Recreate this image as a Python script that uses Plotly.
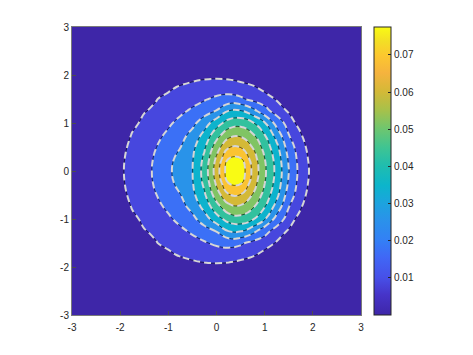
import numpy as np
import plotly.graph_objects as go

# grid coordinates
x_vals = [-3, -2.25, -2, -1.75, -1.5, -1.25, -1, -0.75, -0.5, -0.25, 0, 0.25, 0.5, 0.75, 1, 1.25, 1.5, 1.75, 2, 2.25, 3]
y_vals = [-3, -2.25, -2, -1.75, -1.5, -1.25, -1, -0.75, -0.5, -0.25, 0, 0.25, 0.5, 0.75, 1, 1.25, 1.5, 1.75, 2, 2.25, 3]

# estimated field values (units of 1e-3), rows ordered by y ascending
z_milli = [
    [0]*21,
    [0]*21,
    [0, 0, 0, 0, 0, 0, 0, 0, 4.8, 6.3, 6.5, 5.8, 3.6, 0, 0, 0, 0, 0, 0, 0, 0],
    [0, 0, 0, 0, 0, 0, 5.6, 9.2, 10.4, 10.8, 11.2, 11.6, 11.2, 9.2, 4.9, 0, 0, 0, 0, 0, 0],
    [0, 0, 0, 0, 0, 7.6, 11.0, 11.4, 13.4, 15.2, 17.6, 18.8, 17.2, 13.9, 12.0, 7.2, 0, 0, 0, 0, 0],
    [0, 0, 0, 0, 7.4, 9.9, 12.2, 14.5, 17.2, 20.7, 24.4, 32.2, 32.8, 26.9, 18.9, 12.6, 7.0, 0, 0, 0, 0],
    [0, 0, 0, 5.2, 10.4, 12.2, 14.8, 18.1, 21.9, 28.2, 36.5, 43.3, 45.0, 41.0, 32.7, 21.0, 12.6, 4.0, 0, 0, 0],
    [0, 0, 0, 8.8, 11.1, 14.1, 17.4, 21.3, 26.3, 34.5, 44.8, 53.3, 54.6, 49.1, 40.2, 28.7, 16.2, 8.8, 0, 0, 0],
    [0, 0, 6.1, 9.4, 12.6, 15.9, 19.9, 23.8, 29.9, 38.8, 52.1, 63.2, 63.6, 55.6, 45.1, 34.1, 20.1, 11.2, 3.5, 0, 0],
    [0, 0, 6.8, 10.0, 13.4, 17.0, 21.7, 26.6, 31.4, 41.9, 57.5, 72.2, 73.1, 60.5, 48.2, 36.8, 22.9, 12.3, 5.1, 0, 0],
    [0, 0, 7.0, 10.2, 13.6, 17.4, 22.6, 27.3, 31.8, 43.2, 60.0, 76.8, 77.7, 62.4, 49.3, 37.7, 24.3, 12.7, 5.8, 0, 0],
    [0, 0, 6.8, 10.0, 13.4, 17.0, 21.7, 26.6, 31.4, 41.9, 57.5, 72.2, 73.1, 60.5, 48.2, 36.8, 22.9, 12.3, 5.1, 0, 0],
    [0, 0, 6.1, 9.4, 12.6, 15.9, 19.9, 23.8, 29.9, 38.8, 52.1, 63.2, 63.6, 55.6, 45.1, 34.1, 20.1, 11.2, 3.5, 0, 0],
    [0, 0, 0, 8.8, 11.1, 14.1, 17.4, 21.3, 26.3, 34.5, 44.8, 53.3, 54.6, 49.1, 40.2, 28.7, 16.2, 8.8, 0, 0, 0],
    [0, 0, 0, 5.2, 10.4, 12.2, 14.8, 18.1, 21.9, 28.2, 36.5, 43.3, 45.0, 41.0, 32.7, 21.0, 12.6, 4.0, 0, 0, 0],
    [0, 0, 0, 0, 7.4, 9.9, 12.2, 14.5, 17.2, 20.7, 24.4, 32.2, 32.8, 26.9, 18.9, 12.6, 7.0, 0, 0, 0, 0],
    [0, 0, 0, 0, 0, 7.6, 11.0, 11.4, 13.4, 15.2, 17.6, 18.8, 17.2, 13.9, 12.0, 7.2, 0, 0, 0, 0, 0],
    [0, 0, 0, 0, 0, 0, 5.6, 9.2, 10.4, 10.8, 11.2, 11.6, 11.2, 9.2, 4.9, 0, 0, 0, 0, 0, 0],
    [0, 0, 0, 0, 0, 0, 0, 0, 4.8, 6.3, 6.5, 5.8, 3.6, 0, 0, 0, 0, 0, 0, 0, 0],
    [0]*21,
    [0]*21,
]

level_start = 0.008
level_end = 0.072
level_step = 0.008
color_min = 0.0
color_max = 0.0775

axis_ticks = [-3, -2, -1, 0, 1, 2, 3]
axis_labels = ["-3", "-2", "-1", "0", "1", "2", "3"]
cbar_ticks = [0.01, 0.02, 0.03, 0.04, 0.05, 0.06, 0.07]
cbar_labels = ["0.01", "0.02", "0.03", "0.04", "0.05", "0.06", "0.07"]

parula = [
    [0.0, '#3e26a8'], [0.07, '#4634c8'], [0.13, '#4750e8'], [0.2, '#4067f6'],
    [0.26, '#3380f5'], [0.33, '#2a92ea'], [0.39, '#1ca4de'], [0.45, '#0cb5cb'],
    [0.52, '#20bdae'], [0.58, '#3ec493'], [0.645, '#6dc670'], [0.71, '#a6c14b'],
    [0.775, '#d3b937'], [0.84, '#f5b33e'], [0.9, '#fcc72f'], [0.95, '#f3de25'],
    [1.0, '#f9fb14'],
]

z = np.array(z_milli) / 1000.0
contours = dict(start=level_start, end=level_end, size=level_step)

fig = go.Figure()
fig.add_trace(go.Contour(
    x=x_vals, y=y_vals, z=z, autocontour=False,
    contours=dict(coloring='fill', showlines=True, **contours),
    line=dict(color='black', width=0.6, smoothing=1.3),
    colorscale=parula, showscale=False, hoverinfo='skip'))
fig.add_trace(go.Contour(
    x=x_vals, y=y_vals, z=z, autocontour=False,
    contours=dict(coloring='none', showlines=True, **contours),
    line=dict(color='#d6d6d6', width=2, dash='7px,4px', smoothing=1.3),
    showscale=False, hoverinfo='skip'))
fig.add_trace(go.Scatter(
    x=[-10, -10], y=[-10, -10], mode='markers', showlegend=False, hoverinfo='skip',
    marker=dict(size=1, color=[color_min, color_max], cmin=color_min, cmax=color_max,
                colorscale=parula, showscale=True,
                colorbar=dict(x=1.045, xanchor='left', xpad=0, y=0.5, yanchor='middle',
                              len=1.0, lenmode='fraction', ypad=0, thickness=17,
                              outlinewidth=1, outlinecolor='#262626',
                              ticks='inside', ticklen=3, tickcolor='#262626',
                              tickvals=cbar_ticks, ticktext=cbar_labels,
                              tickfont=dict(size=10, color='#262626')))))

axis_common = dict(range=[-3, 3], tickvals=axis_ticks, ticktext=axis_labels,
                   ticks='inside', ticklen=4,
                   tickcolor='#4d4d4d', showline=True, linecolor='#7a7a7a', linewidth=1,
                   mirror=True, showgrid=False, zeroline=False,
                   tickfont=dict(size=10, color='#262626'))
fig.update_layout(
    width=465, height=347,
    margin=dict(l=64, r=112, t=19, b=40),
    paper_bgcolor='white', plot_bgcolor='white',
    font=dict(family='Liberation Sans, Arial, sans-serif', size=10, color='#262626'),
    xaxis=dict(**axis_common, ticklabelstandoff=3),
    yaxis=dict(**axis_common),
    showlegend=False,
)
fig.write_html("out.html", config={'displayModeBar': False})
